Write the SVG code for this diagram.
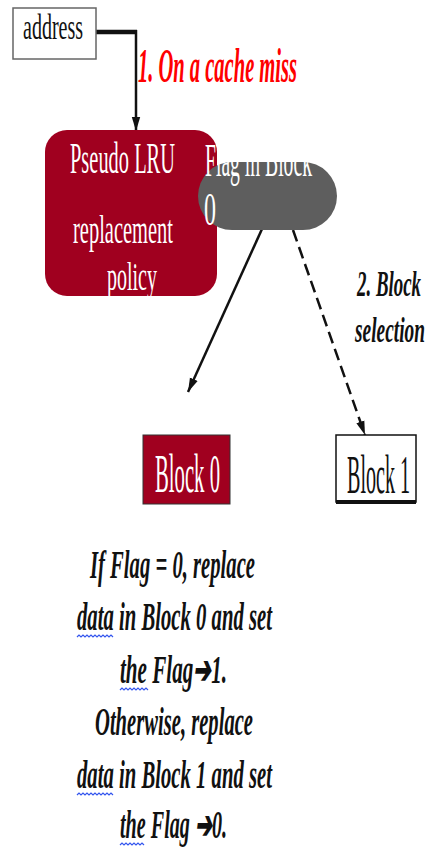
<svg xmlns="http://www.w3.org/2000/svg" width="426" height="851" viewBox="0 0 426 851">
<style>
.serif{font-family:"Liberation Serif","Times New Roman",serif}
.wt{fill:#fff}
.bi{font-weight:bold;font-style:italic}
.conn{stroke:#111;stroke-width:2.5;fill:none}
.wave{stroke:#3355ee;stroke-width:1.2;fill:none}
</style>
<defs>
<marker id="ah" markerUnits="userSpaceOnUse" markerWidth="14" markerHeight="22" refX="20" refY="6" orient="auto" viewBox="0 0 20 12">
<path d="M0,0 L20,6 L0,12 Z" fill="#111"/>
</marker>
</defs>
<rect width="426" height="851" fill="#fff"/>

<g id="connectors">
<path class="conn" d="M95,32 L137,32" style="stroke-width:4.5"/>
<path class="conn" d="M136,30 L136,131" marker-end="url(#ah)"/>
<path class="conn" d="M262,229 L188,392" marker-end="url(#ah)"/>
<path class="conn" d="M293,230 L365,435" stroke-dasharray="12,6" marker-end="url(#ah)"/>
</g>

<g id="address">
<rect x="13" y="8" width="83" height="51" fill="#fff" stroke="#666" stroke-width="1.5"/>
<text class="serif" x="23" y="39" font-size="36" textLength="60" lengthAdjust="spacingAndGlyphs" fill="#111">address</text>
</g>

<g id="label-miss">
<text class="serif bi" x="138" y="82" font-size="48" textLength="159" lengthAdjust="spacingAndGlyphs" fill="#ff0000">1. On a cache miss</text>
</g>

<g id="pseudo-lru">
<rect x="45" y="130" width="172" height="166" rx="22" fill="#a0001f"/>
</g>

<g id="flag">
<rect x="198" y="162" width="139" height="68" rx="34" fill="#5e5e5e"/>
</g>

<g id="pseudo-lru-text">
<text class="serif wt" x="70" y="173" font-size="44" textLength="105" lengthAdjust="spacingAndGlyphs">Pseudo LRU</text>
<text class="serif wt" x="73" y="243" font-size="40" textLength="100" lengthAdjust="spacingAndGlyphs">replacement</text>
<text class="serif wt" x="107" y="290" font-size="40" textLength="50" lengthAdjust="spacingAndGlyphs">policy</text>
</g>

<g id="flag-text">
<text class="serif wt" x="205" y="176" font-size="46" textLength="107" lengthAdjust="spacingAndGlyphs">Flag in Block</text>
<text class="serif wt" x="204" y="225" font-size="46" textLength="12" lengthAdjust="spacingAndGlyphs">0</text>
</g>

<g id="label-selection">
<text class="serif bi" x="357" y="296" font-size="36" textLength="64" lengthAdjust="spacingAndGlyphs" fill="#111">2. Block</text>
<text class="serif bi" x="355" y="342" font-size="36" textLength="70" lengthAdjust="spacingAndGlyphs" fill="#111">selection</text>
</g>

<g id="block0">
<rect x="143" y="435" width="87" height="69" fill="#a0001f" stroke="#333" stroke-width="1"/>
<text class="serif wt" x="155" y="492" font-size="54" textLength="65" lengthAdjust="spacingAndGlyphs">Block 0</text>
</g>

<g id="block1">
<rect x="336" y="435" width="80" height="67" fill="#fff" stroke="#111" stroke-width="1.5"/>
<rect x="336" y="500" width="80" height="4" fill="#111"/>
<text class="serif" x="347" y="493" font-size="54" textLength="63" lengthAdjust="spacingAndGlyphs" fill="#111">Block 1</text>
</g>

<g id="note">
<text class="serif bi" x="90" y="578" font-size="39" textLength="165" lengthAdjust="spacingAndGlyphs" fill="#111">If Flag = 0, replace</text>
<text class="serif bi" x="77" y="630" font-size="39" textLength="195" lengthAdjust="spacingAndGlyphs" fill="#111">data in Block 0 and set</text>
<text class="serif bi" x="120" y="683" font-size="39" textLength="107" lengthAdjust="spacingAndGlyphs" fill="#111">the Flag➔1.</text>
<text class="serif bi" x="95" y="735" font-size="39" textLength="158" lengthAdjust="spacingAndGlyphs" fill="#111">Otherwise, replace</text>
<text class="serif bi" x="77" y="788" font-size="39" textLength="195" lengthAdjust="spacingAndGlyphs" fill="#111">data in Block 1 and set</text>
<text class="serif bi" x="120" y="838" font-size="39" textLength="107" lengthAdjust="spacingAndGlyphs" fill="#111">the Flag ➔0.</text>
<path class="wave" d="M77,637 l2,-2 l2,2 l2,-2 l2,2 l2,-2 l2,2 l2,-2 l2,2 l2,-2 l2,2 l2,-2 l2,2 l2,-2 l2,2 l2,-2 l2,2 l2,-2 l2,2"/>
<path class="wave" d="M120,690 l2,-2 l2,2 l2,-2 l2,2 l2,-2 l2,2 l2,-2 l2,2 l2,-2 l2,2 l2,-2 l2,2 l2,-2 l2,2"/>
<path class="wave" d="M77,795 l2,-2 l2,2 l2,-2 l2,2 l2,-2 l2,2 l2,-2 l2,2 l2,-2 l2,2 l2,-2 l2,2 l2,-2 l2,2 l2,-2 l2,2 l2,-2 l2,2"/>
<path class="wave" d="M120,845 l2,-2 l2,2 l2,-2 l2,2 l2,-2 l2,2 l2,-2 l2,2 l2,-2 l2,2 l2,-2 l2,2"/>
</g>
</svg>
